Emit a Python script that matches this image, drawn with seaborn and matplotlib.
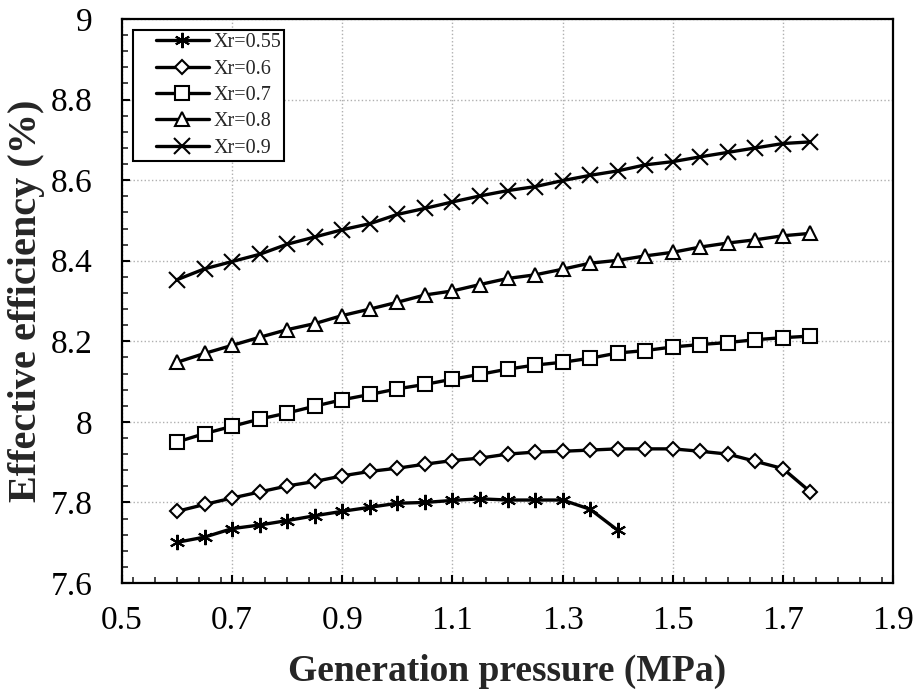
import numpy as np
import pandas as pd
import matplotlib
matplotlib.use("Agg")
import matplotlib.pyplot as plt
import seaborn as sns
from matplotlib.ticker import MultipleLocator
from matplotlib.lines import Line2D
from matplotlib.legend_handler import HandlerLine2D

# generation pressure (MPa)
x_short = [0.6, 0.65, 0.7, 0.75, 0.8, 0.85, 0.9, 0.95, 1.0, 1.05, 1.1, 1.15,
           1.2, 1.25, 1.3, 1.35, 1.4]
x_long = [0.6, 0.65, 0.7, 0.75, 0.8, 0.85, 0.9, 0.95, 1.0, 1.05, 1.1, 1.15,
          1.2, 1.25, 1.3, 1.35, 1.4, 1.45, 1.5, 1.55, 1.6, 1.65, 1.7, 1.75]

# effective efficiency (%)
eff_055 = [7.701, 7.714, 7.735, 7.744, 7.755, 7.767, 7.778, 7.788, 7.798, 7.800,
           7.805, 7.809, 7.806, 7.806, 7.806, 7.783, 7.731]
eff_06 = [7.778, 7.795, 7.811, 7.826, 7.841, 7.852, 7.866, 7.877, 7.885, 7.895,
          7.904, 7.910, 7.920, 7.925, 7.927, 7.930, 7.933, 7.933, 7.933, 7.927,
          7.920, 7.902, 7.884, 7.826]
eff_07 = [7.950, 7.971, 7.989, 8.007, 8.022, 8.039, 8.055, 8.068, 8.082, 8.093,
          8.106, 8.118, 8.131, 8.141, 8.148, 8.158, 8.171, 8.177, 8.186, 8.192,
          8.197, 8.204, 8.209, 8.213]
eff_08 = [8.148, 8.170, 8.190, 8.210, 8.229, 8.244, 8.264, 8.280, 8.297, 8.315,
          8.325, 8.341, 8.356, 8.365, 8.379, 8.394, 8.401, 8.412, 8.421, 8.434,
          8.444, 8.452, 8.462, 8.468]
eff_09 = [8.353, 8.380, 8.398, 8.416, 8.441, 8.459, 8.477, 8.492, 8.515, 8.530,
          8.546, 8.561, 8.574, 8.584, 8.599, 8.612, 8.623, 8.638, 8.646, 8.658,
          8.669, 8.680, 8.691, 8.695]

labels = ["Xr=0.55", "Xr=0.6", "Xr=0.7", "Xr=0.8", "Xr=0.9"]
xs = [x_short, x_long, x_long, x_long, x_long]
ys = [eff_055, eff_06, eff_07, eff_08, eff_09]
markers = [(6, 2, 0), "D", "s", "^", "x"]
msizes = [11, 7.5, 10, 10.5, 11]

sns.set_style("white")
plt.rcParams['font.family'] = ['Liberation Serif', 'DejaVu Serif']

fig, ax = plt.subplots(figsize=(9.16, 6.92), dpi=100)
fig.subplots_adjust(left=0.1332, right=0.975, bottom=0.1575, top=0.9725)

for lab, x, y, m, ms in zip(labels, xs, ys, markers, msizes):
    df = pd.DataFrame({"x": x, "y": y})
    sns.lineplot(data=df, x="x", y="y", ax=ax, color="black", lw=2.4,
                 marker=m, markersize=ms, markerfacecolor="white",
                 markeredgecolor="black", markeredgewidth=1.5, label=lab)

ax.set_xlim(0.5, 1.9)
ax.set_ylim(7.6, 9.0)
ax.xaxis.set_minor_locator(MultipleLocator(0.04))
ax.yaxis.set_minor_locator(MultipleLocator(0.04))
ax.set_xticks([0.5, 0.7, 0.9, 1.1, 1.3, 1.5, 1.7, 1.9])
ax.set_xticklabels(["0.5", "0.7", "0.9", "1.1", "1.3", "1.5", "1.7", "1.9"])
ax.set_yticks([7.6, 7.8, 8.0, 8.2, 8.4, 8.6, 8.8, 9.0])
ax.set_yticklabels(["7.6", "7.8", "8", "8.2", "8.4", "8.6", "8.8", "9"])

ax.grid(True, which="major", color="#b0b0b0", linestyle=":", linewidth=1.0)
for s in ax.spines.values():
    s.set_color("black")
    s.set_linewidth(1.6)

ax.tick_params(axis="both", which="major", direction="in", length=6, width=1.5,
               labelsize=24, colors="black", bottom=True, left=True)
ax.tick_params(axis="both", which="minor", direction="in", length=4, width=1.2,
               bottom=True, left=True)
ax.tick_params(axis="x", which="major", pad=16)
ax.tick_params(axis="y", which="major", pad=21)

ax.set_xlabel("Generation pressure (MPa)", fontsize=27, fontweight="bold", labelpad=13)
ax.set_ylabel("Effective efficiency (%)", fontsize=29, fontweight="bold", labelpad=4)

leg = ax.legend(loc="upper left", fontsize=14.5, frameon=True, fancybox=False,
                edgecolor="black", framealpha=1, borderpad=0.15, labelspacing=0.36,
                handlelength=3.6, handletextpad=0.25, borderaxespad=0.55,
                handler_map={Line2D: HandlerLine2D(xpad=1.0)})
leg.get_frame().set_linewidth(1.5)

fig.savefig("out.png", dpi=100)
